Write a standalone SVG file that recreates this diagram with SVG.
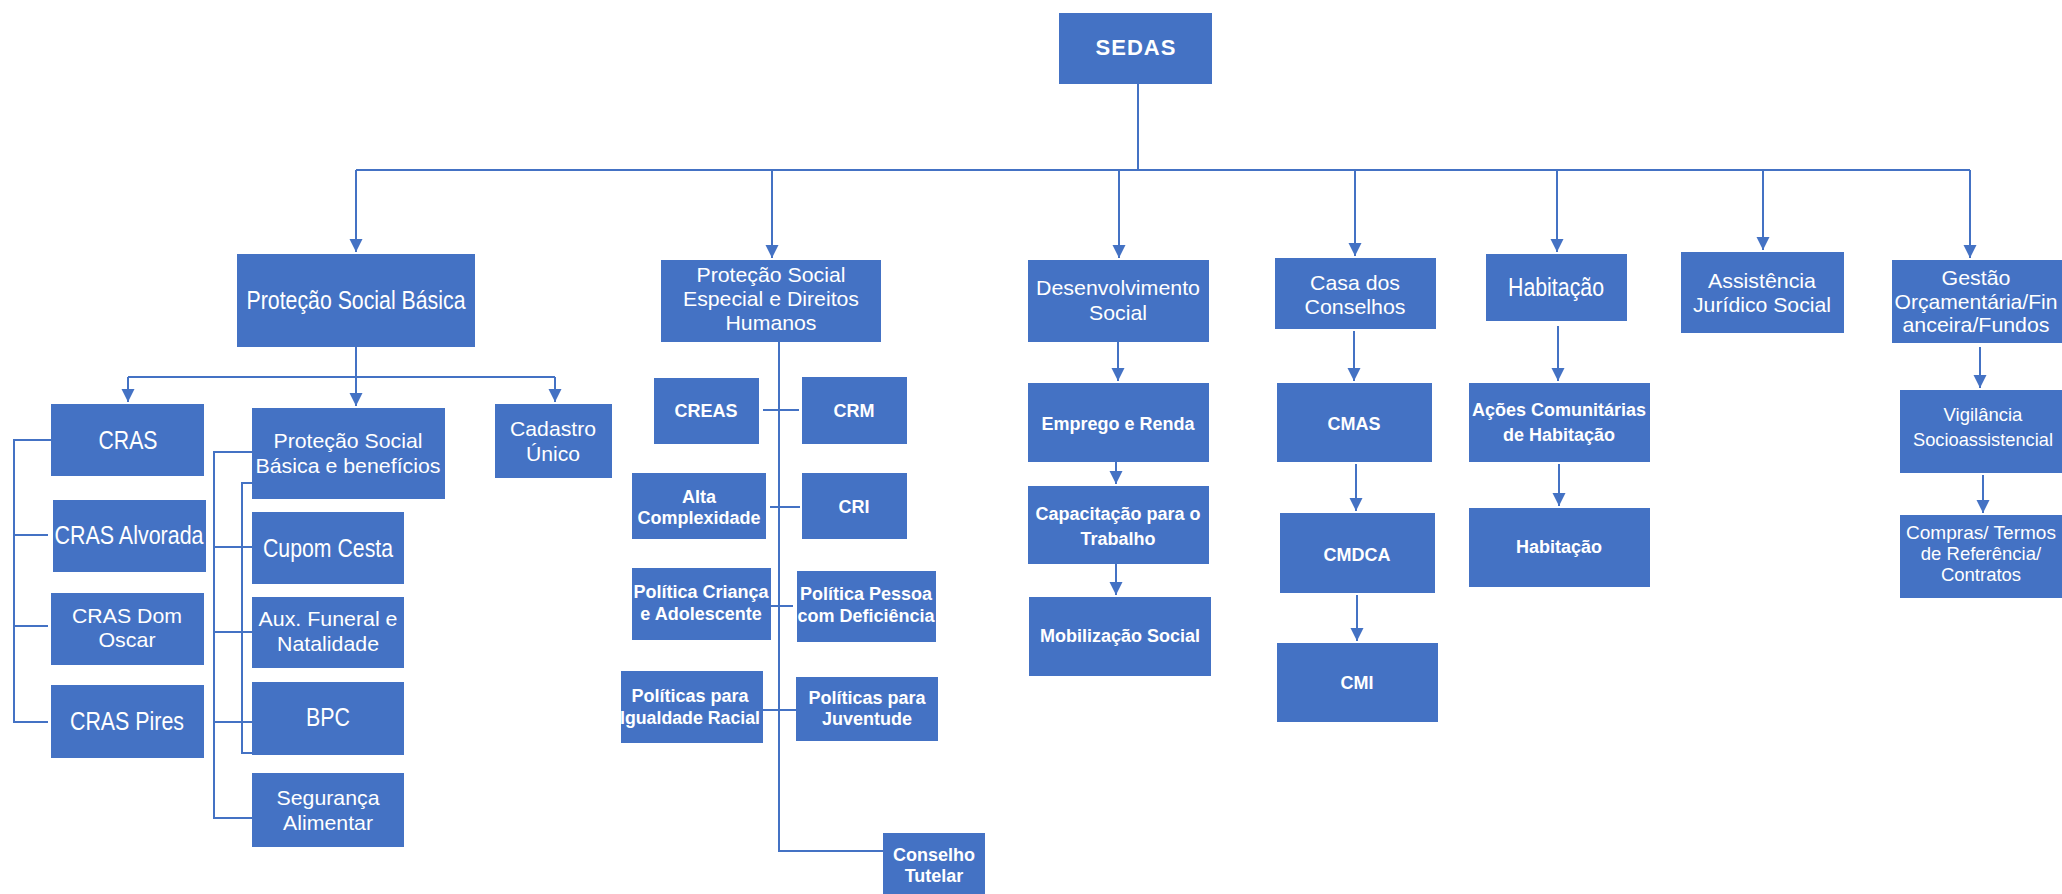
<svg xmlns="http://www.w3.org/2000/svg" width="2062" height="894" viewBox="0 0 2062 894">
<style>
.bx{fill:#4472C4}
.c{fill:none;stroke:#4472C4;stroke-width:2}
.a{marker-end:url(#ah)}
text{fill:#fff;text-anchor:middle}
.n{font-family:"Liberation Sans",Arial,sans-serif;font-size:26px}
.m{font-family:"Liberation Sans",Arial,sans-serif;font-size:21px}
.b{font-family:"Liberation Sans",Arial,sans-serif;font-size:18px;font-weight:bold}
.s{font-family:"Liberation Sans",Arial,sans-serif;font-size:18.5px}
</style>
<defs>
<marker id="ah" markerUnits="userSpaceOnUse" markerWidth="14" markerHeight="14" refX="13" refY="6.5" orient="auto">
<path d="M0,0 L13,6.5 L0,13 z" fill="#4472C4"/>
</marker>
</defs>
<rect width="2062" height="894" fill="#fff"/>
<g id="connectors">
<path class="c" d="M1138,84 V170"/>
<path class="c" d="M356,170 H1970"/>
<path class="c a" d="M356,170 V252"/>
<path class="c a" d="M772,170 V258"/>
<path class="c a" d="M1119,170 V258"/>
<path class="c a" d="M1355,170 V256"/>
<path class="c a" d="M1557,170 V252"/>
<path class="c a" d="M1763,170 V250"/>
<path class="c a" d="M1970,170 V258"/>
<path class="c" d="M356,347 V377 M128,377 H555"/>
<path class="c a" d="M128,377 V402"/>
<path class="c a" d="M356,377 V406"/>
<path class="c a" d="M555,377 V402"/>
<path class="c" d="M51,440 H14 V722 H48 M14,535 H48 M14,626 H48"/>
<path class="c" d="M252,452 H214 V818 H252 M214,547 H252 M214,632 H252 M214,722 H252"/>
<path class="c" d="M252,483 H242 V753 H252"/>
<path class="c" d="M779,342 V851 H883"/>
<path class="c" d="M763,410 H799 M770,507 H800 M771,606 H793 M763,710 H796"/>
<path class="c a" d="M1118,342 V381"/>
<path class="c a" d="M1116,462 V484"/>
<path class="c a" d="M1116,564 V595"/>
<path class="c a" d="M1354,331 V381"/>
<path class="c a" d="M1356,464 V511"/>
<path class="c a" d="M1357,595 V641"/>
<path class="c a" d="M1558,326 V381"/>
<path class="c a" d="M1559,464 V506"/>
<path class="c a" d="M1980,347 V388"/>
<path class="c a" d="M1983,475 V513"/>
</g>
<g id="sedas"><rect class="bx" x="1059" y="13" width="153" height="71"/><text class="b" style="font-size:22px;letter-spacing:1px" x="1136" y="55">SEDAS</text></g>
<g id="psb"><rect class="bx" x="237" y="254" width="238" height="93"/><text class="n" x="356" y="309" textLength="219" lengthAdjust="spacingAndGlyphs">Proteção Social Básica</text></g>
<g id="pse"><rect class="bx" x="661" y="260" width="220" height="82"/><text class="m" x="771" y="282"><tspan x="771" textLength="149" lengthAdjust="spacingAndGlyphs">Proteção Social</tspan><tspan x="771" dy="24" textLength="176" lengthAdjust="spacingAndGlyphs">Especial e Direitos</tspan><tspan x="771" dy="24" textLength="91" lengthAdjust="spacingAndGlyphs">Humanos</tspan></text></g>
<g id="desenv"><rect class="bx" x="1028" y="260" width="181" height="82"/><text class="m" x="1118" y="295"><tspan x="1118" textLength="164" lengthAdjust="spacingAndGlyphs">Desenvolvimento</tspan><tspan x="1118" dy="25" textLength="58" lengthAdjust="spacingAndGlyphs">Social</tspan></text></g>
<g id="casa"><rect class="bx" x="1275" y="258" width="161" height="71"/><text class="m" x="1355" y="290"><tspan x="1355" textLength="90" lengthAdjust="spacingAndGlyphs">Casa dos</tspan><tspan x="1355" dy="24" textLength="101" lengthAdjust="spacingAndGlyphs">Conselhos</tspan></text></g>
<g id="habitacao"><rect class="bx" x="1486" y="254" width="141" height="67"/><text class="n" x="1556" y="296" textLength="96" lengthAdjust="spacingAndGlyphs">Habitação</text></g>
<g id="assistencia"><rect class="bx" x="1681" y="252" width="163" height="81"/><text class="m" x="1762" y="288"><tspan x="1762" textLength="108" lengthAdjust="spacingAndGlyphs">Assistência</tspan><tspan x="1762" dy="24" textLength="138" lengthAdjust="spacingAndGlyphs">Jurídico Social</tspan></text></g>
<g id="gestao"><rect class="bx" x="1892" y="260" width="170" height="83"/><text class="m" x="1976" y="285"><tspan x="1976" textLength="69" lengthAdjust="spacingAndGlyphs">Gestão</tspan><tspan x="1976" dy="23.5" textLength="163" lengthAdjust="spacingAndGlyphs">Orçamentária/Fin</tspan><tspan x="1976" dy="23.5" textLength="147" lengthAdjust="spacingAndGlyphs">anceira/Fundos</tspan></text></g>
<g id="cras"><rect class="bx" x="51" y="404" width="153" height="72"/><text class="n" x="128" y="449" textLength="59" lengthAdjust="spacingAndGlyphs">CRAS</text></g>
<g id="cras-alvorada"><rect class="bx" x="53" y="500" width="153" height="72"/><text class="n" x="129" y="544" textLength="149" lengthAdjust="spacingAndGlyphs">CRAS Alvorada</text></g>
<g id="cras-dom-oscar"><rect class="bx" x="51" y="593" width="153" height="72"/><text class="m" x="127" y="623"><tspan x="127" textLength="110" lengthAdjust="spacingAndGlyphs">CRAS Dom</tspan><tspan x="127" dy="24" textLength="57" lengthAdjust="spacingAndGlyphs">Oscar</tspan></text></g>
<g id="cras-pires"><rect class="bx" x="51" y="685" width="153" height="73"/><text class="n" x="127" y="730" textLength="114" lengthAdjust="spacingAndGlyphs">CRAS Pires</text></g>
<g id="psbb"><rect class="bx" x="252" y="408" width="193" height="91"/><text class="m" x="348" y="448"><tspan x="348" textLength="149" lengthAdjust="spacingAndGlyphs">Proteção Social</tspan><tspan x="348" dy="25" textLength="185" lengthAdjust="spacingAndGlyphs">Básica e benefícios</tspan></text></g>
<g id="cupom"><rect class="bx" x="252" y="512" width="152" height="72"/><text class="n" x="328" y="557" textLength="130" lengthAdjust="spacingAndGlyphs">Cupom Cesta</text></g>
<g id="aux"><rect class="bx" x="252" y="597" width="152" height="71"/><text class="m" x="328" y="626"><tspan x="328" textLength="139" lengthAdjust="spacingAndGlyphs">Aux. Funeral e</tspan><tspan x="328" dy="25" textLength="102" lengthAdjust="spacingAndGlyphs">Natalidade</tspan></text></g>
<g id="bpc"><rect class="bx" x="252" y="682" width="152" height="73"/><text class="n" x="328" y="726" textLength="44" lengthAdjust="spacingAndGlyphs">BPC</text></g>
<g id="seguranca"><rect class="bx" x="252" y="773" width="152" height="74"/><text class="m" x="328" y="805"><tspan x="328" textLength="103" lengthAdjust="spacingAndGlyphs">Segurança</tspan><tspan x="328" dy="25" textLength="90" lengthAdjust="spacingAndGlyphs">Alimentar</tspan></text></g>
<g id="cadastro"><rect class="bx" x="495" y="404" width="117" height="74"/><text class="m" x="553" y="436"><tspan x="553" textLength="86" lengthAdjust="spacingAndGlyphs">Cadastro</tspan><tspan x="553" dy="25" textLength="54" lengthAdjust="spacingAndGlyphs">Único</tspan></text></g>
<g id="creas"><rect class="bx" x="654" y="378" width="105" height="66"/><text class="b" x="706" y="417">CREAS</text></g>
<g id="crm"><rect class="bx" x="802" y="377" width="105" height="67"/><text class="b" x="854" y="417">CRM</text></g>
<g id="alta"><rect class="bx" x="632" y="473" width="134" height="66"/><text class="b" x="699" y="503"><tspan x="699">Alta</tspan><tspan x="699" dy="21">Complexidade</tspan></text></g>
<g id="cri"><rect class="bx" x="802" y="473" width="105" height="66"/><text class="b" x="854" y="513">CRI</text></g>
<g id="crianca"><rect class="bx" x="632" y="568" width="139" height="72"/><text class="b" x="701" y="598"><tspan x="701">Política Criança</tspan><tspan x="701" dy="22">e Adolescente</tspan></text></g>
<g id="deficiencia"><rect class="bx" x="797" y="571" width="139" height="71"/><text class="b" x="866" y="600"><tspan x="866">Política Pessoa</tspan><tspan x="866" dy="22">com Deficiência</tspan></text></g>
<g id="racial"><rect class="bx" x="621" y="671" width="142" height="72"/><text class="b" x="690" y="702"><tspan x="690">Políticas para</tspan><tspan x="690" dy="22" textLength="140" lengthAdjust="spacingAndGlyphs">Igualdade Racial</tspan></text></g>
<g id="juventude"><rect class="bx" x="796" y="677" width="142" height="64"/><text class="b" x="867" y="704"><tspan x="867">Políticas para</tspan><tspan x="867" dy="21">Juventude</tspan></text></g>
<g id="conselho-tutelar"><rect class="bx" x="883" y="833" width="102" height="61"/><text class="b" x="934" y="861"><tspan x="934">Conselho</tspan><tspan x="934" dy="21">Tutelar</tspan></text></g>
<g id="emprego"><rect class="bx" x="1028" y="383" width="181" height="79"/><text class="b" x="1118" y="430">Emprego e Renda</text></g>
<g id="capacitacao"><rect class="bx" x="1028" y="486" width="181" height="78"/><text class="b" x="1118" y="520"><tspan x="1118">Capacitação para o</tspan><tspan x="1118" dy="25">Trabalho</tspan></text></g>
<g id="mobilizacao"><rect class="bx" x="1029" y="597" width="182" height="79"/><text class="b" x="1120" y="642">Mobilização Social</text></g>
<g id="cmas"><rect class="bx" x="1277" y="383" width="155" height="79"/><text class="b" x="1354" y="430">CMAS</text></g>
<g id="cmdca"><rect class="bx" x="1280" y="513" width="155" height="80"/><text class="b" x="1357" y="561">CMDCA</text></g>
<g id="cmi"><rect class="bx" x="1277" y="643" width="161" height="79"/><text class="b" x="1357" y="689">CMI</text></g>
<g id="acoes"><rect class="bx" x="1469" y="383" width="181" height="79"/><text class="b" x="1559" y="416"><tspan x="1559">Ações Comunitárias</tspan><tspan x="1559" dy="25">de Habitação</tspan></text></g>
<g id="habitacao2"><rect class="bx" x="1469" y="508" width="181" height="79"/><text class="b" x="1559" y="553">Habitação</text></g>
<g id="vigilancia"><rect class="bx" x="1900" y="390" width="162" height="83"/><text class="s" x="1983" y="421"><tspan x="1983">Vigilância</tspan><tspan x="1983" dy="25" textLength="140" lengthAdjust="spacingAndGlyphs">Socioassistencial</tspan></text></g>
<g id="compras"><rect class="bx" x="1900" y="515" width="162" height="83"/><text class="s" x="1981" y="539"><tspan x="1981" textLength="150" lengthAdjust="spacingAndGlyphs">Compras/ Termos</tspan><tspan x="1981" dy="21">de Referência/</tspan><tspan x="1981" dy="21">Contratos</tspan></text></g>
</svg>
